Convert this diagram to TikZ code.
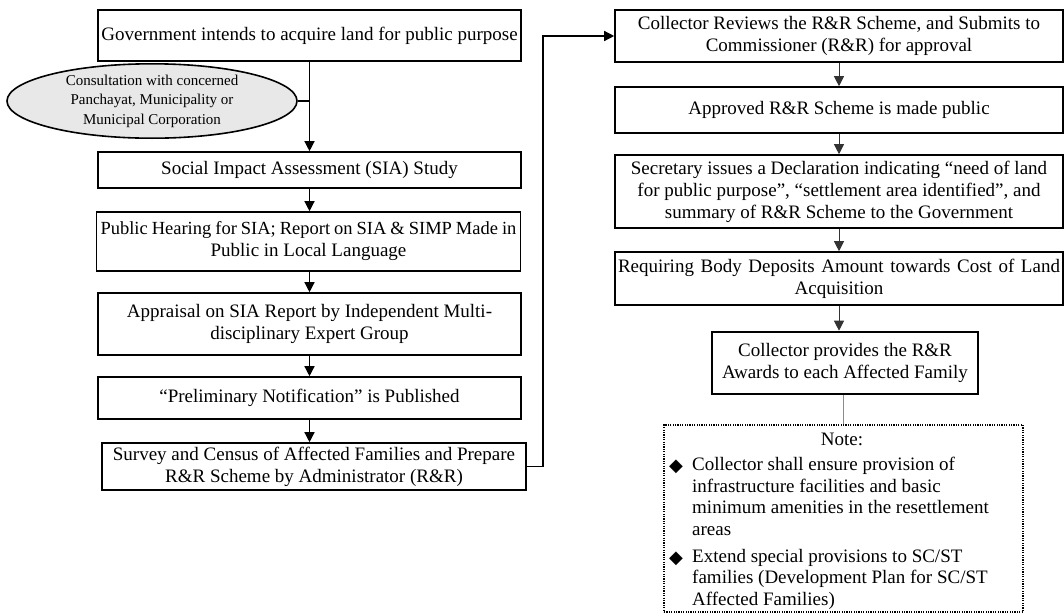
\documentclass[tikz,border=0pt]{standalone}
\usepackage{fontspec}
\setmainfont{Liberation Serif}
\newfontfamily\symf{DejaVu Sans}
\usetikzlibrary{arrows.meta,shapes.geometric}
\begin{document}
\begin{tikzpicture}[x=1pt,y=-1pt,
  box/.style 2 args={draw, line width=1.6pt, fill=white, minimum width=#1, minimum height=#2,
    inner sep=0pt, align=center, font=\fontsize{19}{22}\selectfont},
  thickbox/.style={line width=2.6pt},
  oval/.style={ellipse, draw, line width=1.6pt, fill=gray!18, minimum width=290, minimum height=70,
    inner sep=0pt, align=center, font=\fontsize{15}{19.5}\selectfont},
  notebox/.style={draw, line width=1.2pt, dash pattern=on 1.2pt off 1.2pt, fill=white,
    minimum width=359, minimum height=187, inner sep=0pt},
  notetxt/.style={inner sep=0pt, align=left, anchor=north west, font=\fontsize{19}{21.6}\selectfont},
  bul/.style={inner sep=0pt, font=\symf\fontsize{18}{18}\selectfont},
  larrow/.style={line width=1.3pt, -{Triangle[width=10pt,length=10pt]}},
  rarrow/.style={line width=1.0pt, draw=black!80, -{Triangle[width=10pt,length=10pt]}},
  plain/.style={line width=1.3pt},
]
\useasboundingbox (0,0) rectangle (1064,614);

% left column
\node[box={423}{51}] (b1) at (309.5,35.5) {Government intends to acquire land for public purpose};
\node[oval] (e) at (152,101) {Consultation with concerned\\Panchayat, Municipality or\\Municipal Corporation};
\node[box={423}{36}] (b2) at (309.5,170) {Social Impact Assessment (SIA) Study};
\node[box={424}{59}] (b3) at (308.5,241.5) {\makebox[416pt][s]{\fontsize{18.5}{22}\selectfont Public Hearing for SIA; Report on SIA \& SIMP Made in}\\Public in Local Language};
\node[box={423}{62}] (b4) at (309.5,324) {Appraisal on SIA Report by Independent Multi-\\disciplinary Expert Group};
\node[box={423}{42}] (b5) at (309.5,398) {``Preliminary Notification'' is Published};
\node[box={424}{47}] (b6) at (314,466.5) {Survey and Census of Affected Families and Prepare\\R\&R Scheme by Administrator (R\&R)};

% right column
\node[box={448}{52}] (r1) at (839,36) {Collector Reviews the R\&R Scheme, and Submits to\\Commissioner (R\&R) for approval};
\node[box={448}{46}] (r2) at (839,110) {Approved R\&R Scheme is made public};
\node[box={448}{73}] (r3) at (839,191.5) {Secretary issues a Declaration indicating ``need of land\\for public purpose'', ``settlement area identified'', and\\summary of R\&R Scheme to the Government};
\node[box={448}{53}] (r4) at (839,278.5) {\makebox[442pt][s]{Requiring Body Deposits Amount towards Cost of Land}\\Acquisition};
\node[box={266}{62}, thickbox] (r5) at (845,363) {Collector provides the R\&R\\Awards to each Affected Family};
\node[notebox] (n) at (843.5,518.5) {};

% note contents
\node[inner sep=0pt, font=\fontsize{19}{22}\selectfont] (nt) at (842,439) {Note:};
\node[bul] (d1) at (676,467) {◆};
\node[notetxt] (t1) at (692,457) {Collector shall ensure provision of\\infrastructure facilities and basic\\minimum amenities in the resettlement\\areas};
\node[bul] (d2) at (676,559) {◆};
\node[notetxt] (t2) at (692,549) {Extend special provisions to SC/ST\\families (Development Plan for SC/ST\\Affected Families)};

% connectors left
\coordinate (j) at (b1.south |- e.east);
\draw[plain] (e.east) -- (j);
\draw[larrow] (b1.south) -- (b2.north);
\draw[larrow] (b2.south) -- (b2.south |- b3.north);
\draw[larrow] (b3.south -| b2.south) -- (b2.south |- b4.north);
\draw[larrow] (b4.south) -- (b5.north);
\draw[larrow] (b5.south) -- (b5.south |- b6.north);
\coordinate (lp) at (543,0);
\draw[larrow] (b6.east) -- (b6.east -| lp) |- (r1.west);

% connectors right
\draw[rarrow] (r1.south) -- (r2.north);
\draw[rarrow] (r2.south) -- (r3.north);
\draw[rarrow] (r3.south) -- (r4.north);
\draw[rarrow] (r4.south) -- (r4.south |- r5.north);
\draw[line width=0.8pt, draw=black!45] (r5.south -| n.north) -- (n.north);
\end{tikzpicture}
\end{document}
